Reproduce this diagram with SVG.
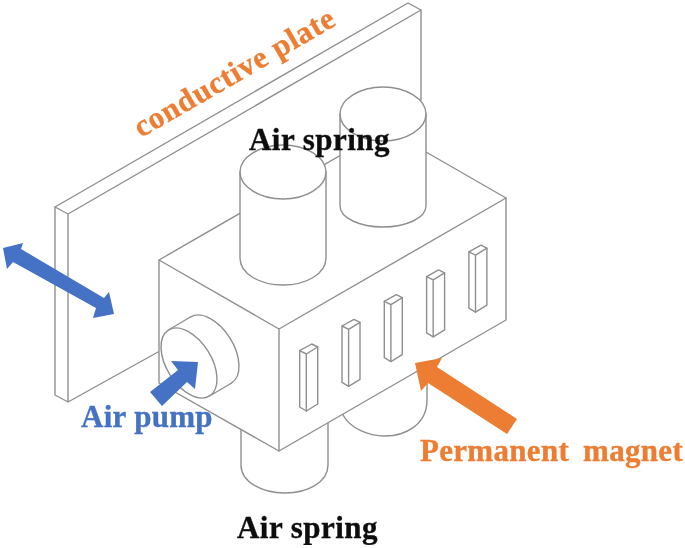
<svg xmlns="http://www.w3.org/2000/svg" xmlns:xlink="http://www.w3.org/1999/xlink" width="685" height="548" viewBox="0 0 685 548">
<style>
.l{fill:#fff;stroke:#8f8f8f;stroke-width:1.4;stroke-linejoin:round;stroke-linecap:round}
.n{fill:none;stroke:#8f8f8f;stroke-width:1.4;stroke-linejoin:round;stroke-linecap:round}
text{font-family:"Liberation Serif","Times New Roman",serif;font-weight:bold;font-size:31px;letter-spacing:.45px;stroke-width:.35px}
.o{fill:#ed7d31}.b{fill:#4472c4}.k{fill:#111}
text.o{stroke:#ed7d31}text.b{stroke:#4472c4}text.k{stroke:#111}
</style>
<defs>
<filter id="soft" x="0" y="0" width="1" height="1"><feGaussianBlur stdDeviation="0.55"/></filter>
<g id="mag">
<path class="l" d="M299.7 350.7L311.7 344L317.7 347V404L306.3 411L299.7 407Z"/>
<path class="n" d="M299.7 350.7L306.3 354L317.7 347M306.3 354V411"/>
</g>
</defs>
<rect width="685" height="548" fill="#fff"/>
<g filter="url(#soft)">
<g id="plate">
<path class="n" d="M55 207L408 3L421 10M421 10V100M68 214L421 10M55 207L68 214V402M55 207V395L68 402L158 352"/>
</g>
<g id="lower-springs">
<path class="l" d="M343 400V415C350 428 368 436 385 436C405 436 427 425 427 400V360H343Z"/>
<path class="l" d="M241 415V465C241 482 262 493 285 493C308 493 328 482 328 465V415Z"/>
</g>
<g id="body">
<path class="l" d="M159 260L386 129L506 198V320L279 451L159 383Z"/>
<path class="n" d="M159 260L279 329L506 198M279 329V451"/>
</g>
<g id="air-spring-back">
<path class="l" d="M340 114V206C340 218 360 227 383 227C406 227 426 218 426 206V114C426 99 406 87 383 87C360 87 340 99 340 114Z"/>
<path class="n" d="M340 114C340 129 360 141 383 141C406 141 426 129 426 114"/>
</g>
<g id="air-spring-front">
<path class="l" d="M240 172V258C240 274 260 285 283 285C306 285 326 274 326 258V172C326 157 306 145 283 145C260 145 240 157 240 172Z"/>
<path class="n" d="M240 172C240 187 260 199 283 199C306 199 326 187 326 172"/>
</g>
<g id="air-pump">
<ellipse class="l" cx="211" cy="350" rx="38.8" ry="22.4" transform="rotate(58 211 350)"/>
<polygon points="168.4,330 190.4,317 231.6,383 209.6,396" fill="#fff"/>
<path class="n" d="M168.4 330L190.4 317M209.6 396L231.6 383"/>
<ellipse class="l" cx="189" cy="363" rx="38.8" ry="22.4" transform="rotate(58 189 363)"/>
</g>
<g id="magnets">
<use xlink:href="#mag" href="#mag"/>
<use xlink:href="#mag" href="#mag" x="42.3" y="-24.7"/>
<use xlink:href="#mag" href="#mag" x="84.6" y="-49.4"/>
<use xlink:href="#mag" href="#mag" x="126.9" y="-74.1"/>
<use xlink:href="#mag" href="#mag" x="169.2" y="-98.8"/>
</g>
<g id="connectors">
<polygon class="b" points="3,248 23,243 21,249 104,298 109,292 114,314 93,318 96,308 13,262 7,269"/>
<polygon class="b" points="198,362 171,361 178,370 150,392 162,406 187,382 195,389"/>
<polygon class="o" points="415,363 442,358 437,367 517,419 507,434 428,383 421,391"/>
</g>
<g id="labels">
<text class="o" x="141" y="138" transform="rotate(-30 141 138)" style="letter-spacing:.7px">conductive plate</text>
<text class="k" x="249" y="150">Air spring</text>
<text class="k" x="237" y="538">Air spring</text>
<text class="b" x="81" y="427" style="letter-spacing:.3px">Air pump</text>
<text class="o" x="420" y="461" style="letter-spacing:.3px;word-spacing:6px">Permanent magnet</text>
</g>
</g>
</svg>
